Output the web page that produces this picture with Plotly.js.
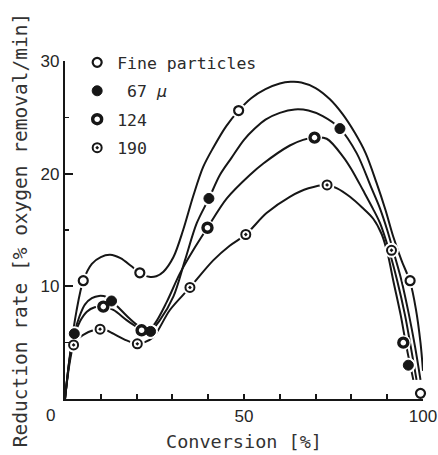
<!DOCTYPE html>
<html>
<head>
<meta charset="utf-8">
<script src="https://cdn.plot.ly/plotly-3.0.1.min.js"></script>
<style>
  html, body { margin: 0; padding: 0; background: #fff; }
  #chart { width: 438px; height: 455px; }
</style>
</head>
<body>
<div id="chart"></div>
<script>
// ---- Data ----
const seriesNames = ['Fine particles', '\u00a067 <i>\u03bc</i>', '124', '190'];

// Measured points
const fineX = [5.1, 20.9, 48.5, 96.4, 99.3];
const fineY = [10.5, 11.2, 25.6, 10.5, 0.5];
const m67X = [2.6, 13.0, 23.9, 40.2, 76.8, 95.9];
const m67Y = [5.8, 8.7, 6.0, 17.8, 24.0, 3.0];
const m124X = [10.7, 21.4, 39.8, 69.7, 94.5];
const m124Y = [8.2, 6.1, 15.2, 23.2, 5.0];
const m190X = [2.4, 9.8, 20.2, 34.9, 50.5, 73.2, 91.2];
const m190Y = [4.8, 6.2, 4.9, 9.9, 14.6, 19.0, 13.2];

// Hand-drawn curves
const fineCurveX = [0, 1.5, 3.2, 5.1, 7.5, 10, 12.6, 15.5, 18.5, 20.9, 23.5, 25.5, 27.5, 30.3, 33, 35.8, 38.6, 41.4, 45, 48.5, 52, 56, 60, 63, 66, 70, 74, 77.5, 81, 84, 87, 89.5, 91.7, 94, 96.4, 98, 99.3, 100];
const fineCurveY = [0, 4.2, 7.8, 10.5, 12.0, 12.6, 12.8, 12.5, 11.8, 11.2, 10.85, 10.9, 11.3, 12.6, 15.0, 18.0, 20.6, 22.3, 24.2, 25.6, 26.7, 27.5, 28.0, 28.15, 28.1, 27.6, 26.6, 25.3, 23.6, 21.8, 19.2, 16.8, 14.4, 12.3, 10.4, 8.0, 5.0, 2.5];

const c67X = [0, 1.3, 2.6, 4, 5.6, 7.5, 9.5, 11.6, 13.0, 15, 17.5, 20, 22, 23.9, 26.5, 30.3, 33.5, 36.8, 40.2, 43.3, 46.5, 50, 53, 56, 60, 64.2, 68, 72, 76.8, 81.5, 85.5, 88, 90, 92, 94, 96, 97.8, 99.3];
const c67Y = [0, 3.6, 5.8, 7.3, 8.4, 8.95, 9.15, 9.05, 8.7, 8.1, 7.3, 6.6, 6.2, 6.1, 7.0, 9.1, 12.3, 15.6, 17.8, 19.9, 21.4, 23.0, 24.0, 24.8, 25.4, 25.7, 25.6, 25.1, 24.0, 21.8, 18.8, 16.9, 15.0, 12.8, 10.5, 7.6, 4.6, 1.7];

const c124X = [0, 1.3, 2.6, 4.2, 6.1, 8.3, 10.7, 13.5, 17.2, 19.5, 21.4, 23, 25.1, 28.4, 32.1, 35.8, 39.8, 45.2, 51.7, 55.4, 62.8, 66.5, 69.7, 73.1, 77.7, 80, 83.3, 86, 88, 90.5, 92.8, 95, 96.6, 98.2];
const c124Y = [0, 3.5, 5.6, 6.9, 7.75, 8.15, 8.2, 7.9, 7.0, 6.5, 6.15, 6.1, 6.7, 8.6, 11.15, 13.2, 15.2, 17.8, 19.9, 20.9, 22.5, 23.0, 23.2, 23.1, 21.5, 20.4, 18.5, 16.9, 15.6, 13.2, 10.5, 7.4, 4.6, 1.7];

const c190X = [0, 1.2, 2.4, 3.8, 5.1, 7.9, 9.8, 11.5, 13.5, 17.2, 20.2, 22, 24.7, 29.3, 34.9, 41.4, 46, 50.5, 56.3, 62.8, 68, 73.1, 76, 79.6, 83, 86.1, 88.5, 90.2, 91.7, 93.8, 95.4, 97.3];
const c190Y = [0, 3.0, 4.8, 5.4, 5.7, 6.1, 6.2, 6.1, 5.8, 5.2, 4.9, 5.0, 5.5, 7.9, 9.9, 12.3, 13.6, 14.6, 16.5, 17.95, 18.7, 19.0, 18.7, 17.95, 17.0, 16.0, 14.6, 12.8, 10.5, 7.4, 4.6, 1.7];

// Axis ticks
const xTickVals = [0, 10, 20, 30, 40, 50, 60, 70, 80, 90, 100];
const xTickText = ['', '', '', '', '', '50', '', '', '', '', '100'];
const yTickVals = [0, 10, 20, 30];
const yTickText = ['', '10', '20', '30'];
const yMinorVals = [5, 15, 25];
const cornerLabel = '0';

const xTitle = 'Conversion [%]';
const yTitle = 'Reduction rate [% oxygen removal/min]';

// ---- Build traces ----
const ink = '#161616';
const curves = [[fineCurveX, fineCurveY], [c67X, c67Y], [c124X, c124Y], [c190X, c190Y]];
const points = [[fineX, fineY], [m67X, m67Y], [m124X, m124Y], [m190X, m190Y]];
const markerStyles = [
  {symbol: 'circle', size: 9, color: '#fff', line: {color: ink, width: 2.2}},
  {symbol: 'circle', size: 10, color: ink, line: {color: ink, width: 1}},
  {symbol: 'circle', size: 9, color: '#fff', line: {color: ink, width: 3.4}},
  {symbol: 'circle-dot', size: 9, color: '#fff', line: {color: ink, width: 2}}
];

const traces = [];
curves.forEach(function (c) {
  traces.push({x: c[0], y: c[1], type: 'scatter', mode: 'lines', showlegend: false,
    hoverinfo: 'skip', line: {color: ink, width: 2, shape: 'spline', smoothing: 0.9}});
});
points.forEach(function (p) {
  traces.push({x: p[0], y: p[1], type: 'scatter', mode: 'markers', showlegend: false,
    hoverinfo: 'skip', marker: {symbol: 'circle', size: 15, color: '#fff'}, cliponaxis: false});
});
points.forEach(function (p, i) {
  traces.push({x: p[0], y: p[1], type: 'scatter', mode: 'markers', name: seriesNames[i],
    legendgroup: 'g' + i, marker: markerStyles[i], cliponaxis: false});
});

const tickFont = {family: 'Liberation Sans, Arial, sans-serif', size: 17, color: '#262626'};
const monoFont = 'DejaVu Sans Mono, monospace';

const layout = {
  width: 438, height: 455,
  margin: {l: 65, r: 15, t: 61, b: 56},
  paper_bgcolor: '#fff', plot_bgcolor: '#fff',
  showlegend: true,
  legend: {
    x: 0.034, xanchor: 'left', y: 1.047, yanchor: 'top',
    bgcolor: 'rgba(0,0,0,0)', borderwidth: 0,
    font: {family: monoFont, size: 16.5, color: '#2a2a2a'},
    itemwidth: 30, tracegroupgap: 4
  },
  xaxis: {
    range: [0, 100], showgrid: false, zeroline: false,
    showline: true, linecolor: ink, linewidth: 2.2,
    ticks: 'inside', ticklen: 5, tickwidth: 2, tickcolor: ink,
    tickmode: 'array', tickvals: xTickVals, ticktext: xTickText,
    tickfont: tickFont,
    title: {text: xTitle, font: {family: monoFont, size: 18.5, color: '#333'}, standoff: 11}
  },
  yaxis: {
    range: [0, 30], showgrid: false, zeroline: false,
    showline: true, linecolor: ink, linewidth: 2.2,
    ticks: 'inside', ticklen: 8, tickwidth: 2, tickcolor: ink,
    tickmode: 'array', tickvals: yTickVals, ticktext: yTickText,
    tickfont: tickFont,
    minor: {tickmode: 'array', tickvals: yMinorVals, ticks: 'inside', ticklen: 4, tickwidth: 1.5, tickcolor: ink, showgrid: false},
    title: {text: yTitle, font: {family: monoFont, size: 19.5, color: '#333'}, standoff: 8}
  },
  annotations: [{
    x: 0, y: 0, xref: 'x', yref: 'y', text: cornerLabel, showarrow: false,
    xshift: -15, yshift: -16, font: tickFont
  }]
};

Plotly.newPlot('chart', traces, layout, {staticPlot: true, displayModeBar: false});
</script>
</body>
</html>
